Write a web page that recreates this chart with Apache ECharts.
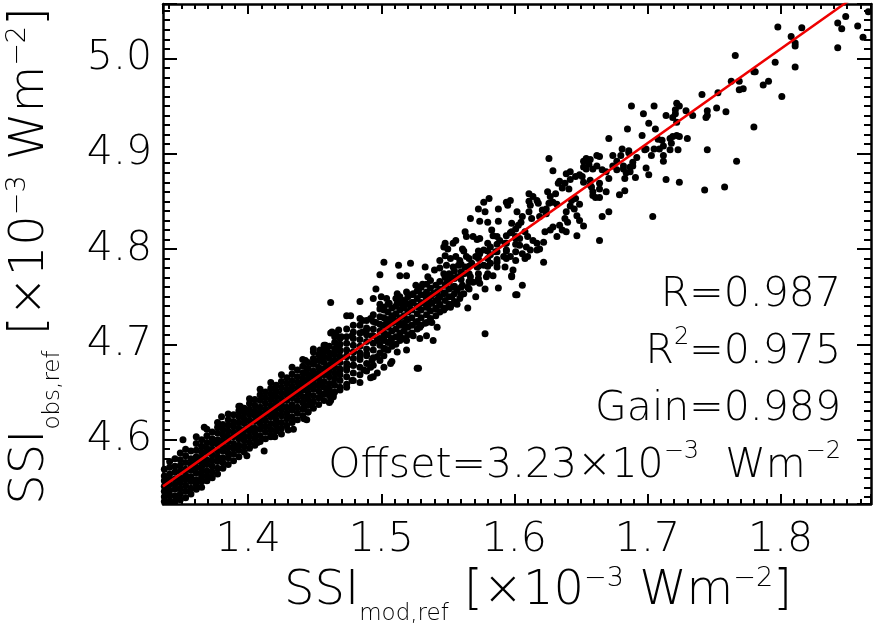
<!DOCTYPE html>
<html>
<head>
<meta charset="utf-8">
<script src="https://cdn.jsdelivr.net/npm/echarts/dist/echarts.min.js"></script>
<style>
  html, body { margin: 0; padding: 0; background: #fff; }
  #chart { width: 876px; height: 639px; }
</style>
</head>
<body>
<div id="chart"></div>
<script>
// axis ranges (x10^-3 W m^-2)
const xRange = [1.336, 1.868]
const yRange = [4.5325, 5.057]

// regression line end points (gain 0.989, offset 3.23)
const fitLine = [[1.336, 4.551], [1.870, 5.079]]

// dense band: [x, y1, y2, ...]
const bandColumns = [
  [1.337, 4.535, 4.540, 4.546, 4.551, 4.557, 4.562, 4.569],
  [1.341, 4.536, 4.542, 4.547, 4.553, 4.558, 4.564, 4.571, 4.577],
  [1.345, 4.535, 4.541, 4.548, 4.553, 4.559, 4.566, 4.572, 4.580],
  [1.349, 4.537, 4.543, 4.549, 4.555, 4.560, 4.567, 4.573, 4.579, 4.586],
  [1.353, 4.539, 4.546, 4.552, 4.558, 4.563, 4.569, 4.576, 4.583, 4.590],
  [1.357, 4.543, 4.549, 4.556, 4.561, 4.568, 4.574, 4.580, 4.588],
  [1.361, 4.548, 4.553, 4.558, 4.565, 4.571, 4.577, 4.582, 4.589, 4.596, 4.603],
  [1.365, 4.556, 4.561, 4.566, 4.571, 4.576, 4.581, 4.587, 4.593, 4.600],
  [1.369, 4.557, 4.562, 4.567, 4.574, 4.579, 4.586, 4.591, 4.597, 4.604, 4.611],
  [1.373, 4.560, 4.566, 4.572, 4.578, 4.584, 4.590, 4.596, 4.601, 4.608],
  [1.377, 4.564, 4.570, 4.577, 4.582, 4.588, 4.595, 4.600, 4.607, 4.613, 4.618],
  [1.381, 4.570, 4.576, 4.581, 4.588, 4.593, 4.599, 4.605, 4.611, 4.616],
  [1.385, 4.574, 4.581, 4.586, 4.592, 4.598, 4.603, 4.609, 4.615, 4.621, 4.627],
  [1.389, 4.578, 4.585, 4.591, 4.596, 4.603, 4.608, 4.614, 4.619, 4.626],
  [1.393, 4.582, 4.589, 4.594, 4.601, 4.606, 4.612, 4.618, 4.624, 4.630, 4.635],
  [1.397, 4.587, 4.593, 4.599, 4.604, 4.610, 4.617, 4.622, 4.628, 4.633],
  [1.401, 4.591, 4.597, 4.603, 4.609, 4.614, 4.620, 4.626, 4.632, 4.638, 4.643],
  [1.405, 4.594, 4.601, 4.607, 4.612, 4.619, 4.625, 4.630, 4.636, 4.642],
  [1.409, 4.598, 4.604, 4.611, 4.617, 4.623, 4.628, 4.634, 4.641, 4.647, 4.653],
  [1.413, 4.601, 4.608, 4.614, 4.620, 4.626, 4.632, 4.638, 4.644, 4.650],
  [1.417, 4.605, 4.611, 4.617, 4.624, 4.630, 4.636, 4.642, 4.648, 4.654, 4.660],
  [1.421, 4.609, 4.615, 4.621, 4.627, 4.633, 4.639, 4.645, 4.651, 4.657],
  [1.425, 4.612, 4.618, 4.625, 4.631, 4.637, 4.643, 4.649, 4.655, 4.661, 4.668],
  [1.429, 4.615, 4.622, 4.628, 4.634, 4.641, 4.647, 4.653, 4.659, 4.665],
  [1.433, 4.618, 4.624, 4.631, 4.637, 4.644, 4.650, 4.656, 4.662, 4.669, 4.676],
  [1.437, 4.621, 4.628, 4.634, 4.641, 4.647, 4.654, 4.660, 4.666, 4.673],
  [1.441, 4.625, 4.632, 4.639, 4.645, 4.652, 4.658, 4.664, 4.670, 4.677, 4.684],
  [1.445, 4.629, 4.636, 4.642, 4.649, 4.655, 4.662, 4.668, 4.675, 4.681],
  [1.449, 4.633, 4.640, 4.646, 4.653, 4.660, 4.666, 4.672, 4.679, 4.685, 4.692],
  [1.453, 4.637, 4.644, 4.651, 4.657, 4.664, 4.670, 4.676, 4.683, 4.689],
  [1.457, 4.641, 4.648, 4.655, 4.661, 4.668, 4.674, 4.681, 4.687, 4.693, 4.699],
  [1.461, 4.646, 4.653, 4.659, 4.666, 4.672, 4.678, 4.685, 4.691, 4.698],
  [1.465, 4.650, 4.657, 4.664, 4.670, 4.676, 4.683, 4.689, 4.695, 4.702, 4.708],
  [1.469, 4.655, 4.662, 4.668, 4.674, 4.681, 4.687, 4.693, 4.700, 4.706],
  [1.474, 4.658, 4.666, 4.673, 4.680, 4.687, 4.694, 4.701, 4.708, 4.716],
  [1.479, 4.662, 4.670, 4.678, 4.685, 4.692, 4.699, 4.706, 4.713, 4.720],
  [1.484, 4.660, 4.668, 4.676, 4.684, 4.691, 4.698, 4.705, 4.712, 4.720, 4.727],
  [1.489, 4.672, 4.680, 4.688, 4.695, 4.703, 4.710, 4.717, 4.725],
  [1.494, 4.666, 4.678, 4.686, 4.694, 4.701, 4.709, 4.716, 4.724, 4.731],
  [1.499, 4.683, 4.691, 4.699, 4.706, 4.714, 4.721, 4.729, 4.737],
  [1.502, 4.676, 4.688, 4.696, 4.704, 4.712, 4.720, 4.728, 4.736],
  [1.505, 4.694, 4.702, 4.710, 4.718, 4.726, 4.734, 4.742],
  [1.508, 4.682, 4.698, 4.706, 4.714, 4.722, 4.730, 4.738],
  [1.511, 4.700, 4.708, 4.716, 4.724, 4.732, 4.740, 4.748],
  [1.514, 4.704, 4.712, 4.720, 4.728, 4.736, 4.744],
  [1.517, 4.706, 4.714, 4.722, 4.730, 4.738, 4.746],
  [1.520, 4.710, 4.718, 4.726, 4.734, 4.742, 4.750],
  [1.523, 4.712, 4.720, 4.728, 4.736, 4.744, 4.752],
  [1.527, 4.716, 4.724, 4.732, 4.740, 4.748, 4.756],
  [1.530, 4.720, 4.728, 4.736, 4.744, 4.752, 4.760],
  [1.534, 4.723, 4.731, 4.739, 4.747, 4.755, 4.763],
  [1.537, 4.727, 4.735, 4.743, 4.751, 4.759, 4.767],
  [1.541, 4.730, 4.738, 4.746, 4.754, 4.762],
  [1.544, 4.734, 4.742, 4.750, 4.758, 4.766],
  [1.548, 4.738, 4.746, 4.754, 4.762, 4.770],
  [1.551, 4.742, 4.750, 4.758, 4.766, 4.774],
  [1.555, 4.745, 4.753, 4.761, 4.769, 4.777],
  [1.560, 4.752, 4.760, 4.768, 4.776, 4.784],
  [1.566, 4.758, 4.766, 4.774, 4.782, 4.790],
  [1.573, 4.766, 4.774, 4.782, 4.790, 4.798],
  [1.580, 4.774, 4.782, 4.790, 4.798, 4.806],
  [1.587, 4.781, 4.789, 4.797, 4.805, 4.813],
  [1.594, 4.790, 4.798, 4.806, 4.814],
  [1.601, 4.797, 4.805, 4.813, 4.821]
]

// middle part of the cloud, read point by point
const midPoints = [
  [1.502, 4.786], [1.513, 4.783], [1.514, 4.772], [1.519, 4.772], [1.522, 4.785], [1.533, 4.781], [1.499, 4.773],
  [1.535, 4.771], [1.540, 4.778], [1.544, 4.780], [1.496, 4.758], [1.526, 4.762], [1.531, 4.763], [1.528, 4.757],
  [1.524, 4.753], [1.519, 4.755], [1.514, 4.750], [1.512, 4.753], [1.533, 4.751], [1.537, 4.750], [1.539, 4.753],
  [1.543, 4.748], [1.542, 4.755], [1.484, 4.745], [1.494, 4.748], [1.500, 4.750], [1.504, 4.748], [1.506, 4.743],
  [1.502, 4.739], [1.499, 4.742], [1.462, 4.744], [1.512, 4.743], [1.516, 4.739], [1.519, 4.743], [1.522, 4.737],
  [1.524, 4.744], [1.528, 4.739], [1.532, 4.743], [1.535, 4.739], [1.538, 4.743], [1.541, 4.737], [1.544, 4.741],
  [1.547, 4.736], [1.552, 4.739], [1.474, 4.730], [1.477, 4.730], [1.486, 4.725], [1.492, 4.727], [1.496, 4.723],
  [1.501, 4.720], [1.504, 4.723], [1.509, 4.727], [1.513, 4.722], [1.517, 4.720], [1.519, 4.725], [1.526, 4.723],
  [1.529, 4.718], [1.533, 4.722], [1.538, 4.723], [1.542, 4.718], [1.463, 4.713], [1.468, 4.715], [1.470, 4.708],
  [1.478, 4.709], [1.486, 4.713], [1.489, 4.715], [1.493, 4.709], [1.497, 4.704], [1.502, 4.708], [1.507, 4.704],
  [1.514, 4.708], [1.519, 4.704], [1.524, 4.709], [1.529, 4.706], [1.534, 4.709], [1.539, 4.704], [1.503, 4.695],
  [1.512, 4.692], [1.519, 4.694], [1.527, 4.675], [1.449, 4.695], [1.454, 4.694], [1.459, 4.695], [1.464, 4.690],
  [1.469, 4.694], [1.474, 4.688], [1.479, 4.692], [1.484, 4.687], [1.489, 4.690], [1.493, 4.683], [1.497, 4.687],
  [1.479, 4.678], [1.443, 4.683], [1.449, 4.680], [1.454, 4.683], [1.459, 4.676], [1.464, 4.681], [1.469, 4.673],
  [1.474, 4.676], [1.478, 4.662], [1.487, 4.673], [1.492, 4.676], [1.444, 4.673], [1.449, 4.669], [1.439, 4.659],
  [1.444, 4.662], [1.449, 4.657], [1.454, 4.659], [1.459, 4.653], [1.464, 4.659], [1.469, 4.652], [1.474, 4.655],
  [1.439, 4.648], [1.444, 4.645], [1.448, 4.638], [1.442, 4.634], [1.445, 4.629], [1.462, 4.641], [1.464, 4.648],
  [1.460, 4.650], [1.454, 4.645],
  [1.626, 4.895], [1.629, 4.882], [1.654, 4.895], [1.652, 4.892], [1.652, 4.886], [1.654, 4.884], [1.656, 4.889],
  [1.639, 4.879], [1.642, 4.881], [1.646, 4.876], [1.642, 4.873], [1.638, 4.869], [1.634, 4.871], [1.633, 4.869],
  [1.636, 4.864], [1.641, 4.863], [1.649, 4.878], [1.651, 4.876], [1.652, 4.870], [1.611, 4.858], [1.614, 4.855],
  [1.617, 4.851], [1.611, 4.850], [1.612, 4.846], [1.618, 4.848], [1.625, 4.860], [1.627, 4.855], [1.631, 4.858],
  [1.629, 4.849], [1.626, 4.848], [1.632, 4.847], [1.621, 4.841], [1.624, 4.842], [1.624, 4.837], [1.643, 4.851],
  [1.646, 4.853], [1.649, 4.847], [1.645, 4.842], [1.642, 4.845], [1.647, 4.835], [1.649, 4.830], [1.652, 4.824],
  [1.647, 4.814], [1.639, 4.839], [1.638, 4.832], [1.640, 4.828], [1.634, 4.825], [1.636, 4.820], [1.639, 4.818],
  [1.632, 4.813], [1.664, 4.809], [1.594, 4.849], [1.597, 4.851], [1.595, 4.846], [1.577, 4.849], [1.581, 4.853],
  [1.573, 4.842], [1.578, 4.839], [1.588, 4.842], [1.602, 4.839], [1.606, 4.834], [1.605, 4.828], [1.603, 4.825],
  [1.611, 4.839], [1.613, 4.832], [1.619, 4.834], [1.567, 4.832], [1.574, 4.829], [1.580, 4.828], [1.583, 4.820],
  [1.584, 4.814], [1.598, 4.827], [1.598, 4.818], [1.597, 4.817], [1.563, 4.818], [1.564, 4.813], [1.569, 4.813],
  [1.572, 4.810], [1.574, 4.811], [1.556, 4.809], [1.554, 4.806], [1.548, 4.806], [1.547, 4.802], [1.550, 4.800],
  [1.561, 4.800], [1.562, 4.798], [1.589, 4.809], [1.593, 4.806], [1.608, 4.818], [1.610, 4.813], [1.604, 4.811],
  [1.601, 4.811], [1.604, 4.804], [1.609, 4.802], [1.612, 4.799], [1.617, 4.799], [1.619, 4.800], [1.622, 4.807],
  [1.617, 4.806], [1.614, 4.809], [1.623, 4.818], [1.627, 4.820], [1.629, 4.823], [1.622, 4.786], [1.582, 4.802],
  [1.586, 4.797], [1.582, 4.794], [1.577, 4.799], [1.574, 4.795], [1.571, 4.792], [1.594, 4.799], [1.592, 4.792],
  [1.597, 4.792], [1.601, 4.788], [1.606, 4.795], [1.608, 4.790], [1.610, 4.792], [1.564, 4.792], [1.559, 4.788],
  [1.556, 4.792], [1.552, 4.790], [1.548, 4.793], [1.544, 4.788], [1.549, 4.783], [1.554, 4.781], [1.558, 4.783],
  [1.563, 4.781], [1.568, 4.785], [1.572, 4.781], [1.577, 4.783], [1.582, 4.785], [1.587, 4.786], [1.593, 4.781],
  [1.599, 4.778], [1.598, 4.772], [1.547, 4.774], [1.552, 4.772], [1.557, 4.771], [1.562, 4.774], [1.567, 4.771],
  [1.573, 4.769], [1.579, 4.771], [1.584, 4.772], [1.549, 4.764], [1.554, 4.760], [1.561, 4.762], [1.565, 4.760],
  [1.569, 4.765], [1.574, 4.764], [1.578, 4.758], [1.571, 4.750], [1.606, 4.762], [1.602, 4.752], [1.588, 4.759],
  [1.547, 4.753], [1.553, 4.750], [1.552, 4.741], [1.557, 4.742], [1.565, 4.738], [1.559, 4.748], [1.598, 4.771],
  [1.588, 4.829], [1.492, 4.665], [1.497, 4.670], [1.507, 4.680]
]

// sparse upper part of the cloud
const upperPoints = [
  [1.780, 4.986], [1.763, 4.976], [1.769, 4.976], [1.772, 4.968], [1.769, 4.967], [1.787, 4.972], [1.791, 4.976],
  [1.753, 4.964], [1.741, 4.962], [1.759, 4.944], [1.752, 4.948], [1.745, 4.945], [1.745, 4.940], [1.744, 4.938],
  [1.780, 4.928], [1.767, 4.892], [1.758, 4.865], [1.743, 4.862], [1.745, 4.904], [1.734, 4.940], [1.729, 4.945],
  [1.722, 4.953], [1.724, 4.950], [1.721, 4.946], [1.721, 4.942], [1.719, 4.938], [1.722, 4.933], [1.714, 4.940],
  [1.705, 4.950], [1.697, 4.942], [1.688, 4.950], [1.701, 4.932], [1.706, 4.926], [1.685, 4.926], [1.696, 4.919],
  [1.671, 4.916], [1.708, 4.915], [1.711, 4.914], [1.717, 4.916], [1.719, 4.918], [1.722, 4.919], [1.724, 4.918],
  [1.730, 4.916], [1.718, 4.911], [1.712, 4.908], [1.709, 4.905], [1.705, 4.905], [1.699, 4.905], [1.698, 4.904],
  [1.703, 4.898], [1.717, 4.904], [1.723, 4.904], [1.712, 4.898], [1.712, 4.892], [1.681, 4.905], [1.686, 4.903],
  [1.686, 4.901], [1.692, 4.896], [1.689, 4.891], [1.689, 4.887], [1.687, 4.886], [1.680, 4.898], [1.677, 4.892],
  [1.674, 4.898], [1.662, 4.898], [1.664, 4.897], [1.662, 4.887], [1.659, 4.884], [1.657, 4.894], [1.682, 4.887],
  [1.682, 4.884], [1.677, 4.883], [1.674, 4.887], [1.684, 4.880], [1.683, 4.874], [1.699, 4.885], [1.691, 4.875],
  [1.701, 4.878], [1.687, 4.881], [1.669, 4.881], [1.671, 4.874], [1.666, 4.883], [1.664, 4.869], [1.664, 4.863],
  [1.659, 4.860], [1.658, 4.865], [1.661, 4.854], [1.664, 4.854], [1.659, 4.856], [1.669, 4.860], [1.679, 4.857],
  [1.683, 4.861], [1.714, 4.873], [1.724, 4.870], [1.671, 4.839], [1.666, 4.834], [1.704, 4.834], [1.657, 4.872],
  [1.657, 4.867], [1.766, 5.003], [1.798, 5.033], [1.816, 5.032], [1.808, 5.023], [1.811, 5.016], [1.811, 5.013],
  [1.796, 4.996], [1.811, 4.991], [1.781, 4.986], [1.801, 4.960], [1.843, 5.037], [1.849, 5.044], [1.846, 5.031],
  [1.843, 5.011], [1.858, 5.034], [1.862, 5.022], [1.866, 5.049]
]

// isolated points around the band
const strayPoints = [
  [1.351, 4.600], [1.365, 4.550], [1.399, 4.583], [1.412, 4.588], [1.407, 4.597], [1.434, 4.611], [1.417, 4.603],
  [1.420, 4.603], [1.425, 4.606], [1.430, 4.610], [1.442, 4.622], [1.444, 4.621], [1.461, 4.639], [1.464, 4.645],
  [1.462, 4.712], [1.466, 4.712], [1.458, 4.699], [1.467, 4.699], [1.394, 4.635], [1.380, 4.624], [1.367, 4.613],
  [1.528, 4.675], [1.578, 4.711], [1.601, 4.752], [1.556, 4.743], [1.557, 4.757], [1.562, 4.753]
]

// fit statistics shown in the plot
const statR = '0.987'
const statR2 = '0.975'
const statGain = '0.989'
const statOffset = '3.23'

const FONT = 'DejaVu Sans'
const WEIGHT = 200
const scatterData = bandColumns
  .flatMap(c => c.slice(1).map(y => [c[0], y]))
  .concat(midPoints, upperPoints, strayPoints)

const statRich = {
  m: { fontSize: 41, fontFamily: FONT, fontWeight: WEIGHT, fill: '#000', lineHeight: 41, padding: [11, 0, 0, 0] },
  s: { fontSize: 24, fontFamily: FONT, fontWeight: WEIGHT, fill: '#000', lineHeight: 24, verticalAlign: 'top' }
}
const titleRich = {
  m: { fontSize: 48, fontFamily: FONT, fontWeight: WEIGHT, fill: '#000', lineHeight: 48, padding: [0, 0, 8, 0] },
  s: { fontSize: 27, fontFamily: FONT, fontWeight: WEIGHT, fill: '#000', lineHeight: 27, verticalAlign: 'top' },
  b: { fontSize: 23, fontFamily: FONT, fontWeight: WEIGHT, fill: '#000', lineHeight: 61, verticalAlign: 'bottom' }
}

function tickFmt(v) {
  const k = Math.round(v * 10)
  return Math.abs(v * 10 - k) < 1e-6 ? (k / 10).toFixed(1) : ''
}

function makeAxis(pos, isX) {
  const major = isX ? 10 : 14
  return {
    type: 'value',
    position: pos,
    min: isX ? xRange[0] : yRange[0],
    max: isX ? xRange[1] : yRange[1],
    splitNumber: 5,
    axisLine: { show: true, onZero: false, lineStyle: { color: '#000', width: 2.5 } },
    axisTick: { show: true, inside: true, length: major, lineStyle: { color: '#000', width: 2 } },
    minorTick: { show: true, splitNumber: 10, length: major / 2, lineStyle: { color: '#000', width: 2 } },
    splitLine: { show: false },
    axisLabel: {
      show: pos === 'bottom' || pos === 'left',
      formatter: tickFmt,
      color: '#000',
      fontFamily: FONT,
      fontWeight: WEIGHT,
      fontSize: 41,
      margin: isX ? 16 : 11
    }
  }
}

function statLabel(y, text) {
  return { type: 'text', x: 841, y: y, style: { text: text, rich: statRich, align: 'right', verticalAlign: 'top' } }
}

const chart = echarts.init(document.getElementById('chart'), null, { renderer: 'canvas' })

chart.setOption({
  animation: false,
  backgroundColor: '#fff',
  grid: { left: 163, right: 5, top: 4, bottom: 135 },
  xAxis: [makeAxis('bottom', true), makeAxis('top', true)],
  yAxis: [makeAxis('left', false), makeAxis('right', false)],
  series: [
    {
      type: 'scatter',
      data: scatterData,
      symbolSize: 7,
      itemStyle: { color: '#000', opacity: 1 },
      clip: true,
      z: 2
    },
    {
      type: 'line',
      data: fitLine,
      showSymbol: false,
      symbol: 'none',
      lineStyle: { color: '#ee0000', width: 2.5 },
      clip: true,
      z: 3
    }
  ],
  graphic: [
    statLabel(269, '{m|R=' + statR + '}'),
    statLabel(326, '{m|R}{s|2}{m|=' + statR2 + '}'),
    statLabel(383, '{m|Gain=' + statGain + '}'),
    statLabel(440, '{m|Offset=' + statOffset + '×10}{s|−3}{m|  Wm}{s|−2}'),
    {
      type: 'text', x: 538, y: 565,
      style: { text: '{m|SSI}{b|mod,ref}{m| [×10}{s|−3}{m| Wm}{s|−2}{m|]}', rich: titleRich, align: 'center', verticalAlign: 'top' }
    },
    {
      type: 'text', x: 4, y: 256, rotation: Math.PI / 2,
      style: { text: '{m|SSI}{b|obs,ref}{m| [×10}{s|−3}{m| Wm}{s|−2}{m|]}', rich: titleRich, align: 'center', verticalAlign: 'top' }
    }
  ]
})
</script>
</body>
</html>
